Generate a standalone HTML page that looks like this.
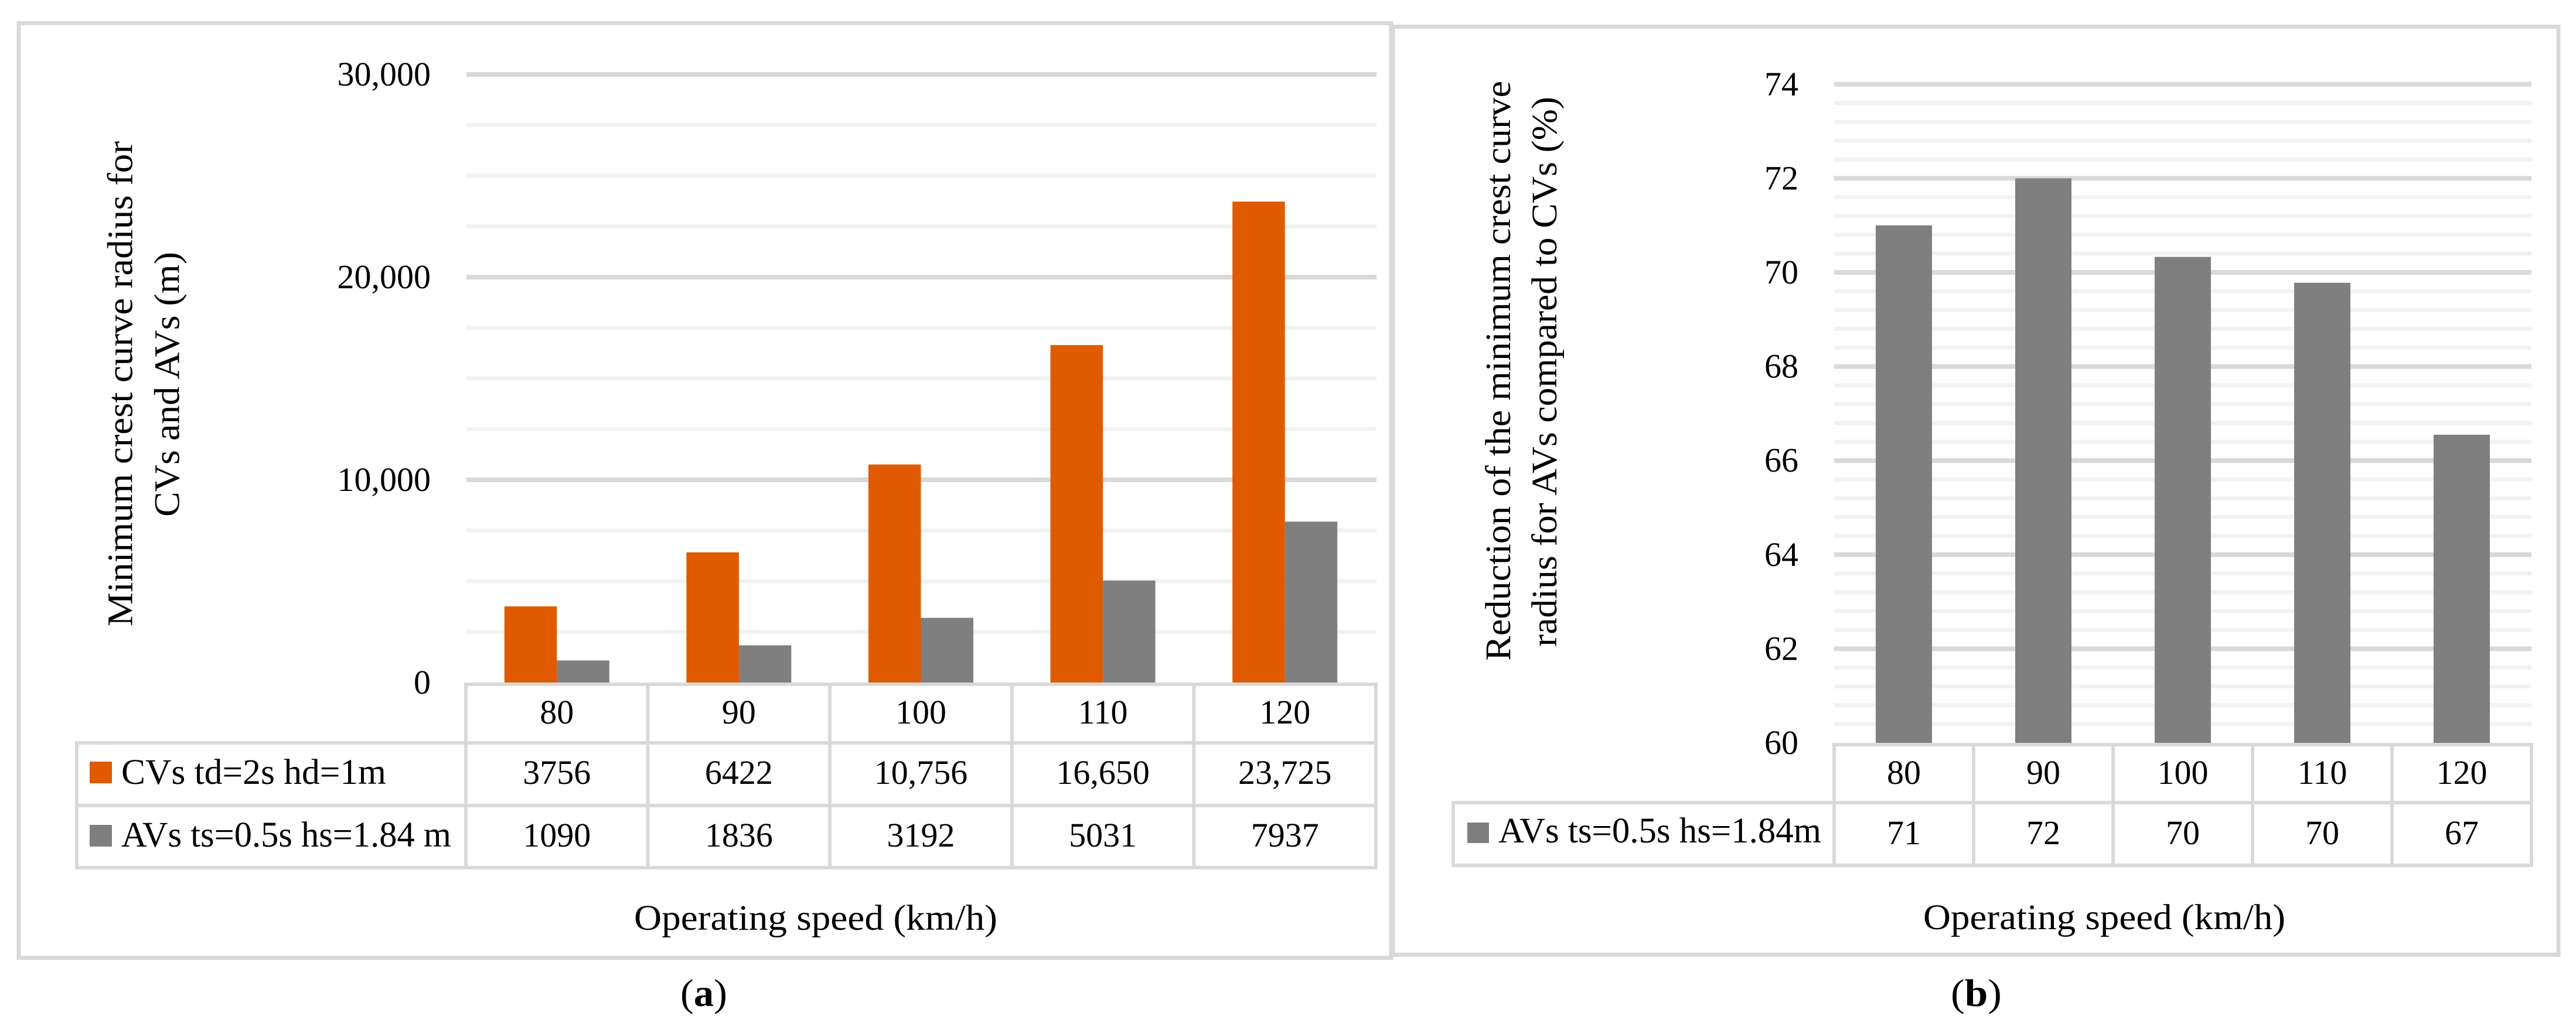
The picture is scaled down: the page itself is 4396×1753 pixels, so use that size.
<!DOCTYPE html>
<html lang="en">
<head>
<meta charset="utf-8">
<title>Minimum crest curve radius charts</title>
<style>
html,body{margin:0;padding:0;background:#fff;}
svg{display:block;}
text{font-family:"Liberation Serif",serif;font-size:58px;fill:#000;}
text.long{font-size:61px;}
</style>
</head>
<body>
<svg id="root" xmlns="http://www.w3.org/2000/svg" width="4396" height="1753" viewBox="0 0 4396 1753">
  <rect x="0" y="0" width="4396" height="1753" fill="#ffffff"/>
  <g id="panelA">
    <rect x="32" y="39.5" width="2342" height="1595.5" fill="#ffffff" stroke="#d9d9d9" stroke-width="7"/>
  </g>
  <g id="panelB">
    <rect x="2377" y="45.5" width="1989" height="1584" fill="#ffffff" stroke="#d9d9d9" stroke-width="7"/>
  </g>
  <text class="long" transform="translate(225.5 1069) rotate(-90)" textLength="828" lengthAdjust="spacingAndGlyphs">Minimum crest curve radius for</text>
  <text class="long" transform="translate(305.5 882) rotate(-90)" textLength="452" lengthAdjust="spacingAndGlyphs">CVs and AVs (m)</text>
  <text class="long" x="1082" y="1587" textLength="620" lengthAdjust="spacingAndGlyphs">Operating speed (km/h)</text>
  <text x="1161" y="1717" style="font-size:66px" textLength="80" lengthAdjust="spacingAndGlyphs">(<tspan font-weight="bold">a</tspan>)</text>
  <text class="long" transform="translate(2577 1128) rotate(-90)" textLength="990" lengthAdjust="spacingAndGlyphs">Reduction of the minimum crest curve</text>
  <text class="long" transform="translate(2656 1104) rotate(-90)" textLength="939" lengthAdjust="spacingAndGlyphs">radius for AVs compared to CVs (%)</text>
  <text class="long" x="3282" y="1586" textLength="618" lengthAdjust="spacingAndGlyphs">Operating speed (km/h)</text>
  <text x="3329" y="1717" style="font-size:66px" textLength="87" lengthAdjust="spacingAndGlyphs">(<tspan font-weight="bold">b</tspan>)</text>
</svg>
<script>
var speedCategories = ['80', '90', '100', '110', '120'];
var cvRadius = [3756, 6422, 10756, 16650, 23725];
var avRadius = [1090, 1836, 3192, 5031, 7937];
var cvPrinted = ['3756', '6422', '10,756', '16,650', '23,725'];
var radiusMajorTicks = [0, 10000, 20000, 30000];
var radiusTickLabels = ['0', '10,000', '20,000', '30,000'];
var radiusMinorTicks = [2500, 5000, 7500, 12500, 15000, 17500, 22500, 25000, 27500];
var reductionBars = [71, 72, 70.33, 69.78, 66.55];
var reductionPrinted = ['71', '72', '70', '70', '67'];
var reductionMajorTicks = [60, 62, 64, 66, 68, 70, 72, 74];
var reductionMinorTicks = [60.4, 60.8, 61.2, 61.6, 62.4, 62.8, 63.2, 63.6, 64.4, 64.8, 65.2, 65.6, 66.4, 66.8, 67.2, 67.6, 68.4, 68.8, 69.2, 69.6, 70.4, 70.8, 71.2, 71.6, 72.4, 72.8, 73.2, 73.6];
var legendCv = 'CVs td=2s hd=1m';
var legendAvA = 'AVs ts=0.5s hs=1.84 m';
var legendAvB = 'AVs ts=0.5s hs=1.84m';

var NS = 'http://www.w3.org/2000/svg';
function make(tag, parent, attrs, txt) {
  var el = document.createElementNS(NS, tag);
  for (var k in attrs) { el.setAttribute(k, attrs[k]); }
  if (txt !== undefined) { el.textContent = txt; }
  parent.appendChild(el);
  return el;
}
var GRID = '#d9d9d9', MINOR = '#f2f2f2', ORANGE = '#e05a00', GRAY = '#7f7f7f';

/* Panel A axis functions */
function yA(v) { return 1165 - (v / 10000) * 346; }
function xA(i) { return 795 + (i + 0.5) * 310.6; }
var panelA = document.getElementById('panelA');
var el, i;

radiusMinorTicks.forEach(function (v) {
  var el = make('line', panelA, { x1: 796, x2: 2349, y1: yA(v), y2: yA(v), stroke: MINOR, 'stroke-width': 7 });
  
  
});
radiusMajorTicks.forEach(function (v, n) {
  if (v > 0) {
    var g = make('line', panelA, { x1: 796, x2: 2349, y1: yA(v), y2: yA(v), stroke: GRID, 'stroke-width': 8 });
    
    
  }
  var t = make('text', panelA, { x: 735, y: yA(v) + 19, 'text-anchor': 'end' }, radiusTickLabels[n]);
  
  
});
speedCategories.forEach(function (c, n) {
  var b1 = make('rect', panelA, { x: xA(n) - 89.5, y: yA(cvRadius[n]), width: 89.5, height: 1165 - yA(cvRadius[n]), fill: ORANGE });
  
  
  var b2 = make('rect', panelA, { x: xA(n), y: yA(avRadius[n]), width: 89.5, height: 1165 - yA(avRadius[n]), fill: GRAY });
  
  
  var c0 = make('text', panelA, { x: xA(n), y: 1235, 'text-anchor': 'middle' }, c);
  
  
  var c1 = make('text', panelA, { x: xA(n), y: 1338, 'text-anchor': 'middle' }, cvPrinted[n]);
  
  
  var c2 = make('text', panelA, { x: xA(n), y: 1445, 'text-anchor': 'middle' }, String(avRadius[n]));
  
  
});
[1168, 1268, 1375, 1481].forEach(function (y, n) {
  var h = make('line', panelA, { x1: n === 0 ? 792 : 128, x2: 2351, y1: y, y2: y, stroke: GRID, 'stroke-width': 6 });
  
  
});
for (i = 0; i <= speedCategories.length; i++) {
  el = make('line', panelA, { x1: 795 + i * 310.6, x2: 795 + i * 310.6, y1: 1165, y2: 1484, stroke: GRID, 'stroke-width': 6 });
  
  
}
el = make('line', panelA, { x1: 131, x2: 131, y1: 1265, y2: 1484, stroke: GRID, 'stroke-width': 6 });


el = make('rect', panelA, { x: 153, y: 1300, width: 38, height: 37, fill: ORANGE });


el = make('text', panelA, { x: 207, y: 1338, textLength: 452, lengthAdjust: 'spacingAndGlyphs', 'class': 'long' }, legendCv);


el = make('rect', panelA, { x: 153, y: 1408, width: 38, height: 37, fill: GRAY });


el = make('text', panelA, { x: 207, y: 1445, textLength: 563, lengthAdjust: 'spacingAndGlyphs', 'class': 'long' }, legendAvA);



/* Panel B axis functions */
function yB(v) { return 1268 - ((v - 60) / 2) * 160.6; }
function xB(i) { return 3130 + (i + 0.5) * 238; }
var panelB = document.getElementById('panelB');

reductionMinorTicks.forEach(function (v) {
  var el = make('line', panelB, { x1: 3130, x2: 4320, y1: yB(v), y2: yB(v), stroke: MINOR, 'stroke-width': 7 });
  
  
});
reductionMajorTicks.forEach(function (v) {
  if (v > 60) {
    var g = make('line', panelB, { x1: 3130, x2: 4320, y1: yB(v), y2: yB(v), stroke: GRID, 'stroke-width': 8 });
    
    
  }
  var t = make('text', panelB, { x: 3069, y: yB(v) + 19, 'text-anchor': 'end' }, String(v));
  
  
});
speedCategories.forEach(function (c, n) {
  var b = make('rect', panelB, { x: xB(n) - 48, y: yB(reductionBars[n]), width: 96, height: 1268 - yB(reductionBars[n]), fill: GRAY });
  
  
  var c0 = make('text', panelB, { x: xB(n), y: 1338, 'text-anchor': 'middle' }, c);
  
  
  var c1 = make('text', panelB, { x: xB(n), y: 1441, 'text-anchor': 'middle' }, reductionPrinted[n]);
  
  
});
[1271, 1370, 1477].forEach(function (y, n) {
  var h = make('line', panelB, { x1: n === 0 ? 3127 : 2477, x2: 4323, y1: y, y2: y, stroke: GRID, 'stroke-width': 6 });
  
  
});
for (i = 0; i <= speedCategories.length; i++) {
  el = make('line', panelB, { x1: 3130 + i * 238, x2: 3130 + i * 238, y1: 1268, y2: 1480, stroke: GRID, 'stroke-width': 6 });
  
  
}
el = make('line', panelB, { x1: 2480, x2: 2480, y1: 1367, y2: 1480, stroke: GRID, 'stroke-width': 6 });


el = make('rect', panelB, { x: 2504, y: 1404, width: 37, height: 35, fill: GRAY });


el = make('text', panelB, { x: 2557, y: 1438, textLength: 551, lengthAdjust: 'spacingAndGlyphs', 'class': 'long' }, legendAvB);


</script>
</body>
</html>
